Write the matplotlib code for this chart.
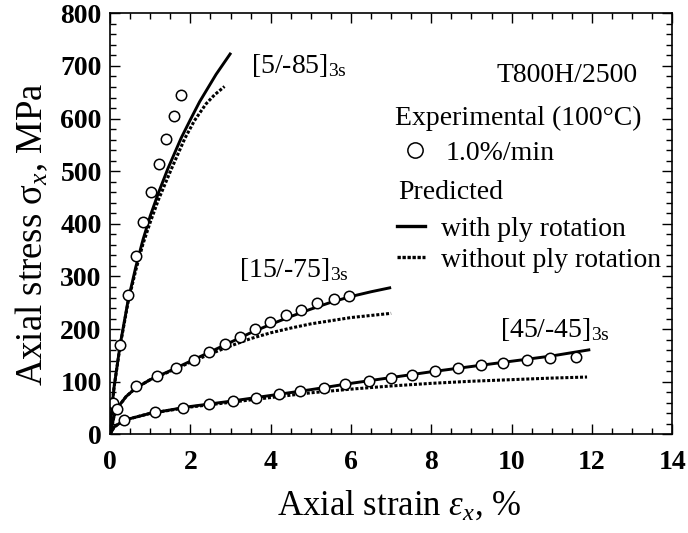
import numpy as np
import matplotlib
matplotlib.use('Agg')
import matplotlib.pyplot as plt
from matplotlib.lines import Line2D

plt.rcParams['font.family'] = ['Liberation Serif', 'DejaVu Serif']
plt.rcParams['mathtext.fontset'] = 'custom'
plt.rcParams['mathtext.rm'] = 'Liberation Serif'
plt.rcParams['mathtext.it'] = 'Liberation Serif:italic'
plt.rcParams['mathtext.bf'] = 'Liberation Serif:bold'

################### DATA ###################

# experimental points (100C, 1.0%/min)
exp_strain_5 = [0.07, 0.25, 0.45, 0.64, 0.82, 1.01, 1.21, 1.40, 1.58, 1.76]
exp_stress_5 = [60, 170, 264, 339, 403, 460, 514, 561, 605, 644]

exp_strain_15 = [0.18, 0.64, 1.17, 1.65, 2.08, 2.46, 2.85, 3.24, 3.61, 3.99,
                 4.37, 4.75, 5.16, 5.57, 5.94]
exp_stress_15 = [48, 91, 110, 126, 142, 157, 171, 185, 201, 214,
                 226, 237, 249, 258, 263]

exp_strain_45 = [0.35, 1.11, 1.81, 2.46, 3.05, 3.63, 4.21, 4.74, 5.32, 5.86,
                 6.45, 6.99, 7.52, 8.09, 8.66, 9.23, 9.79, 10.38, 10.96, 11.61]
exp_stress_45 = [28, 42, 50, 58, 64, 69, 76, 82, 89, 95,
                 101, 108, 113, 120, 126, 131, 136, 142, 145, 147]

# predicted, with ply rotation
rot_strain_5 = [0, 0.05, 0.1, 0.25, 0.45, 0.64, 0.82, 1.0, 1.2, 1.44, 1.77, 2.0, 2.23, 2.64, 3.01]
rot_stress_5 = [0, 55, 90, 170, 255, 318, 370, 415, 458, 505, 563, 598, 632, 684, 725]

rot_strain_15 = [0, 0.1, 0.2, 0.4, 0.64, 1.0, 1.5, 2.0, 2.5, 3.0, 3.5, 4.0, 4.5, 5.0, 5.5, 6.0, 6.5, 7.0]
rot_stress_15 = [0, 35, 52, 72, 88, 104, 121, 139, 157, 175, 193, 209, 224, 238, 251, 262, 271, 279]

rot_strain_45 = [0, 0.1, 0.35, 1, 2, 3, 4, 5, 6, 7, 8, 9, 10, 11, 11.96]
rot_stress_45 = [0, 14, 27, 40, 53, 63, 74, 85, 97, 108, 119, 129, 139, 149, 161]

# predicted, without ply rotation
norot_strain_5 = [0, 0.05, 0.1, 0.25, 0.45, 0.64, 0.82, 1.0, 1.2, 1.52, 1.86, 2.1, 2.39, 2.6, 2.85]
norot_stress_5 = [0, 55, 90, 168, 252, 312, 362, 403, 445, 503, 562, 596, 628, 645, 661]

norot_strain_15 = [0, 0.1, 0.2, 0.4, 0.64, 1.0, 1.5, 2.0, 2.5, 3.0, 3.5, 4.0, 4.5, 5.0, 5.5, 6.0, 6.5, 7.0]
norot_stress_15 = [0, 35, 52, 72, 88, 104, 120, 137, 153, 168, 182, 193, 202, 210, 216, 222, 226, 230]

norot_strain_45 = [0, 0.1, 0.35, 1, 2, 3, 4, 5, 6, 7, 8, 9, 10, 11, 11.88]
norot_stress_45 = [0, 14, 27, 40, 52, 61, 70, 79, 86, 92, 97, 101, 104, 107, 109]

################### PLOT ###################

fig = plt.figure(figsize=(6.88, 5.33), dpi=100)
ax = fig.add_axes([0.160, 0.185, 0.817, 0.790])

dotted = (0, (1.0, 0.6))
for xs, ys in [(norot_strain_5, norot_stress_5), (norot_strain_15, norot_stress_15),
               (norot_strain_45, norot_stress_45)]:
    ax.plot(xs, ys, color='black', lw=2.2, linestyle=dotted)
for xs, ys in [(rot_strain_5, rot_stress_5), (rot_strain_15, rot_stress_15),
               (rot_strain_45, rot_stress_45)]:
    ax.plot(xs, ys, color='black', lw=2.1, solid_capstyle='butt', solid_joinstyle='round')
for xs, ys in [(exp_strain_5, exp_stress_5), (exp_strain_15, exp_stress_15),
               (exp_strain_45, exp_stress_45)]:
    ax.plot(xs, ys, linestyle='none', marker='o', markersize=7.5,
            markerfacecolor='white', markeredgecolor='black', markeredgewidth=1.1)

ax.set_xlim(0, 14)
ax.set_ylim(0, 800)
ax.set_xticks(np.arange(0, 15, 2))
ax.set_xticks(np.arange(0, 14.01, 0.5), minor=True)
ax.set_yticks(np.arange(0, 801, 100))
ax.set_yticks(np.arange(0, 801, 20), minor=True)
ax.tick_params(which='both', direction='in', top=True, right=True, width=1.0)
ax.tick_params(which='major', length=7, labelsize=20, pad=6)
ax.tick_params(which='minor', length=4)
ax.tick_params(axis='x', which='major', pad=11)
for lab in ax.get_xticklabels() + ax.get_yticklabels():
    lab.set_fontweight('bold')
for sp in ax.spines.values():
    sp.set_linewidth(1.2)

ax.set_xlabel(r'Axial strain $\varepsilon_x$, %', fontsize=25)
ax.set_ylabel(r'Axial stress σ$_x$, MPa', fontsize=26.5)
ax.xaxis.set_label_coords(0.515, -0.13)
ax.yaxis.set_label_coords(-0.106, 0.476)

# laminate labels
ax.text(3.5, 700, r'[5/-85]$_{\mathrm{3s}}$', fontsize=20, va='center', ha='left')
ax.text(3.22, 313, r'[15/-75]$_{\mathrm{3s}}$', fontsize=20, va='center', ha='left')
ax.text(9.7, 199, r'[45/-45]$_{\mathrm{3s}}$', fontsize=20, va='center', ha='left')

# legend block
ax.text(0.938, 0.853, 'T800H/2500', transform=ax.transAxes, fontsize=20, ha='right', va='center')
ax.text(0.507, 0.751, 'Experimental (100°C)', transform=ax.transAxes, fontsize=20, ha='left', va='center')
ax.text(0.512, 0.575, 'Predicted', transform=ax.transAxes, fontsize=20, ha='left', va='center')

h_exp = [Line2D([], [], linestyle='none', marker='o', markersize=11,
                markerfacecolor='white', markeredgecolor='black', markeredgewidth=1.1)]
leg1 = ax.legend(h_exp, ['1.0%/min'], loc='center left', bbox_to_anchor=(0.517, 0.668),
                 frameon=False, fontsize=20, handlelength=1.0, handletextpad=0.6,
                 borderpad=0, borderaxespad=0)
ax.add_artist(leg1)
h_pred = [Line2D([], [], color='black', lw=2.4),
          Line2D([], [], color='black', lw=2.4, linestyle=(0, (1.0, 0.5)))]
ax.legend(h_pred, ['with ply rotation', 'without ply rotation'], loc='upper left',
          bbox_to_anchor=(0.510, 0.518), frameon=False, fontsize=20, handlelength=1.0,
          handletextpad=0.6, borderpad=0, borderaxespad=0, labelspacing=0.2)

fig.savefig('out.png', dpi=100)
